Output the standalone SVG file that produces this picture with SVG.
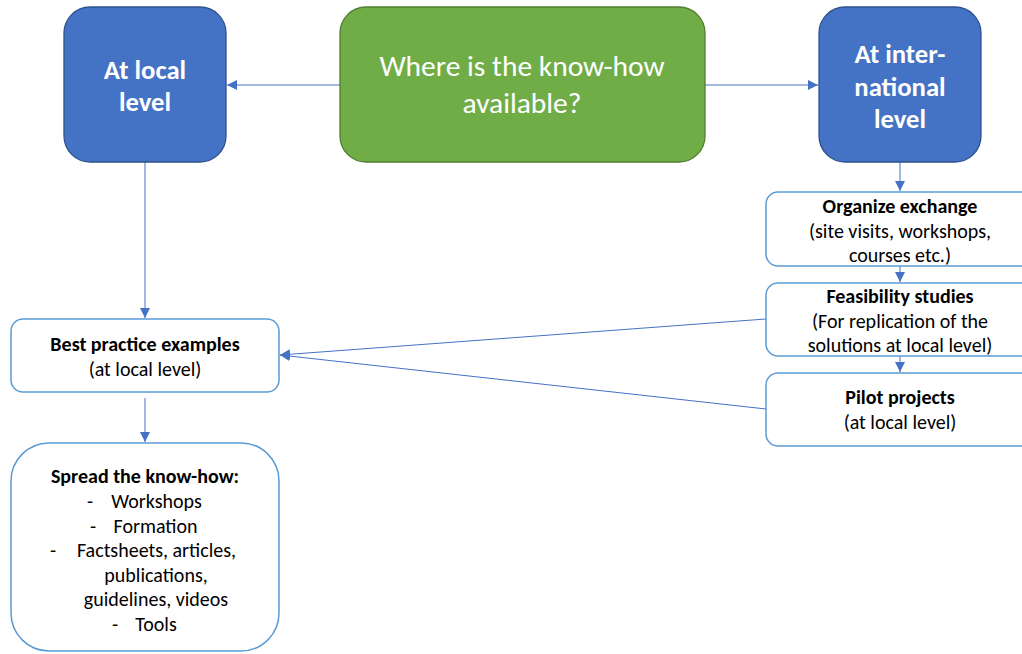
<svg xmlns="http://www.w3.org/2000/svg" width="1022" height="654" viewBox="0 0 1022 654">
<defs>
<marker id="ah" viewBox="0 0 10 10" refX="10" refY="5" markerWidth="10" markerHeight="10" markerUnits="userSpaceOnUse" orient="auto">
<path d="M0,0 L10,5 L0,10 Z" fill="#4472C4"/>
</marker>
<style>
text{font-family:Carlito,"Open Sans","Liberation Sans",sans-serif;text-anchor:middle}
.blue{fill:#4472C4;stroke:#2F528F;stroke-width:1.3}
.green{fill:#70AD47;stroke:#507E32;stroke-width:1.3}
.box{fill:#fff;stroke:#5B9BD5;stroke-width:1.5}
.hd{fill:#fff;font-size:26.7px;font-weight:bold}
.q{fill:#fff;font-size:29.5px}
.t{fill:#000;font-size:20px}
.b{font-weight:bold}
.c{fill:none;stroke:#4472C4;stroke-width:1;marker-end:url(#ah)}
</style>
</defs>
<rect width="1022" height="654" fill="#fff"/>
<g id="connectors">
<line class="c" x1="340" y1="85" x2="227" y2="85"/>
<line class="c" x1="705" y1="85" x2="818" y2="85"/>
<line class="c" x1="145" y1="162" x2="145" y2="318"/>
<line class="c" x1="145" y1="398" x2="145" y2="442"/>
<line class="c" x1="900" y1="162" x2="900" y2="191"/>
<line class="c" x1="900" y1="266" x2="900" y2="282"/>
<line class="c" x1="900" y1="356" x2="900" y2="372"/>
<line class="c" x1="766" y1="319" x2="280" y2="355"/>
<line class="c" x1="766" y1="409" x2="280" y2="355"/>
</g>
<g id="local">
<rect class="blue" x="64" y="7" width="162" height="155" rx="26"/>
<text class="hd" x="145" y="79">At local</text>
<text class="hd" x="145" y="111">level</text>
</g>
<g id="question">
<rect class="green" x="340" y="7" width="365" height="155" rx="26"/>
<text class="q" x="522" y="76">Where is the know-how</text>
<text class="q" x="522" y="113">available?</text>
</g>
<g id="international">
<rect class="blue" x="819" y="7" width="162" height="155" rx="26"/>
<text class="hd" x="900" y="63">At inter-</text>
<text class="hd" x="900" y="96">national</text>
<text class="hd" x="900" y="128">level</text>
</g>
<g id="organize">
<rect class="box" x="766" y="192" width="270" height="74" rx="12"/>
<text class="t b" x="900" y="213">Organize exchange</text>
<text class="t" x="900" y="238">(site visits, workshops,</text>
<text class="t" x="900" y="262">courses etc.)</text>
</g>
<g id="feasibility">
<rect class="box" x="766" y="283" width="270" height="73" rx="12"/>
<text class="t b" x="900" y="303">Feasibility studies</text>
<text class="t" x="900" y="328">(For replication of the</text>
<text class="t" x="900" y="352">solutions at local level)</text>
</g>
<g id="pilot">
<rect class="box" x="766" y="373" width="270" height="73" rx="12"/>
<text class="t b" x="900" y="404">Pilot projects</text>
<text class="t" x="900" y="429">(at local level)</text>
</g>
<g id="bestpractice">
<rect class="box" x="11" y="319" width="268" height="73" rx="12"/>
<text class="t b" x="145" y="351">Best practice examples</text>
<text class="t" x="145" y="376">(at local level)</text>
</g>
<g id="spread">
<rect class="box" x="11" y="443" width="268" height="208" rx="38"/>
<text class="t b" x="145" y="483">Spread the know-how:</text>
<text class="t" x="90" y="508">-</text><text class="t" x="156.5" y="508">Workshops</text>
<text class="t" x="93" y="533">-</text><text class="t" x="155.5" y="533">Formation</text>
<text class="t" x="53" y="557">-</text><text class="t" x="156.5" y="557">Factsheets, articles,</text>
<text class="t" x="156" y="582">publications,</text>
<text class="t" x="156" y="606">guidelines, videos</text>
<text class="t" x="115" y="631">-</text><text class="t" x="156" y="631">Tools</text>
</g>
</svg>
